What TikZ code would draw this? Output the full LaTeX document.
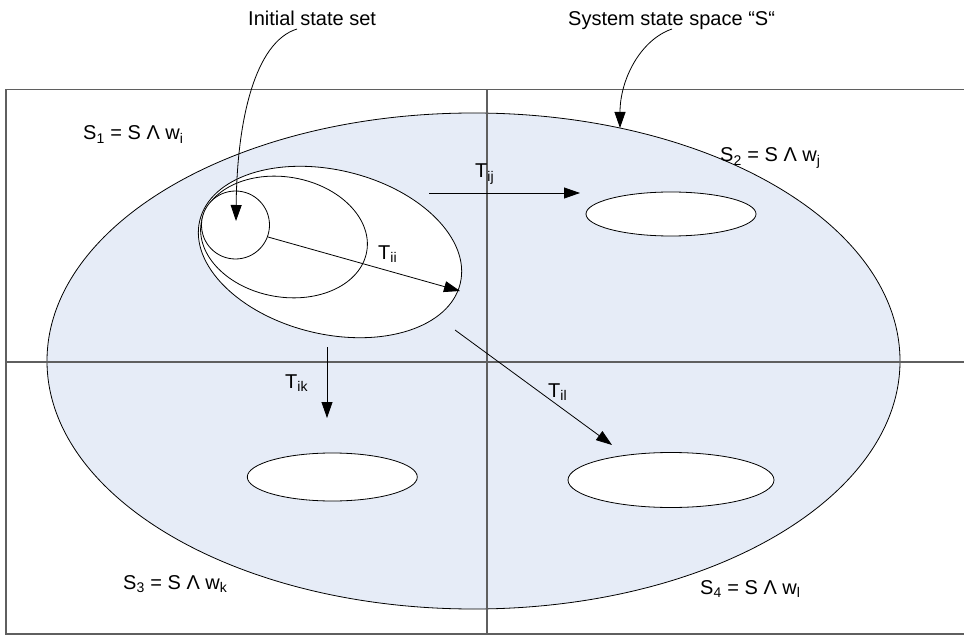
\documentclass[tikz,border=0pt]{standalone}
\usepackage{fontspec}
\setmainfont{Liberation Sans}
\usetikzlibrary{arrows.meta,shapes.geometric}
\definecolor{regionblue}{RGB}{230,236,247}
\definecolor{gridgray}{RGB}{95,95,95}
\begin{document}
\begin{tikzpicture}[x=1pt,y=1pt,
  gridline/.style={draw=gridgray,line width=1.3pt},
  blob/.style={ellipse,draw=black,line width=0.8pt,inner sep=0pt},
  hole/.style={blob,fill=white},
  tr/.style={-{Triangle[length=16pt,width=11pt]},line width=0.8pt},
  lbl/.style={font=\fontsize{20}{24}\selectfont,inner sep=0pt,anchor=base west}]
\useasboundingbox (0,0) rectangle (964,-639);
% big state space
\node[blob,fill=regionblue,minimum width=853pt,minimum height=496pt] (S) at (473.5,-361) {};
% grid
\draw[gridline] (966,-89.5) -- (6,-89.5) -- (6,-634) -- (966,-634);
\draw[gridline] (6,-362) -- (966,-362);
\draw[gridline] (487,-89.5) -- (487,-634);
% initial state ellipses
\node[hole,minimum width=268pt,minimum height=164pt,rotate=-13.6] (outer) at (330,-252) {};
\node[hole,minimum width=168pt,minimum height=120pt,rotate=-10] (mid) at (284,-237) {};
\node[hole,minimum width=68pt,minimum height=68pt] (init) at (235.5,-225) {};
% target holes
\node[hole,minimum width=170pt,minimum height=44pt] (h2) at (671,-214) {};
\node[hole,minimum width=170pt,minimum height=48pt] (h3) at (332.3,-477) {};
\node[hole,minimum width=206pt,minimum height=55pt] (h4) at (671,-480) {};
% title labels
\node[lbl] (tinit) at (248,-26) {Initial state set};
\node[lbl] (tsys) at (568,-26) {System state space “S“};
\coordinate (a1) at (297,-29);
\coordinate (a1e) at (236,-221);
\coordinate (a2) at (672,-29);
\coordinate (a2e) at (620,-128);
\draw[tr] (a1) .. controls (255,-42) and (237,-120) .. (a1e);
\draw[tr] (a2) .. controls (640,-40) and (620,-80) .. (a2e);
% region labels
\node[lbl] (l1) at (83,-140) {S\textsubscript{1} = S Λ w\textsubscript{i}};
\node[lbl] (l2) at (720,-162) {S\textsubscript{2} = S Λ w\textsubscript{j}};
\node[lbl] (l3) at (123,-589) {S\textsubscript{3} = S Λ w\textsubscript{k}};
\node[lbl] (l4) at (700,-594) {S\textsubscript{4} = S Λ w\textsubscript{l}};
% transitions
\coordinate (tii0) at (268,-237);
\coordinate (tii1) at (460,-291);
\draw[tr] (tii0) -- (tii1);
\node[lbl] (lii) at (378,-259) {T\textsubscript{ii}};
\coordinate (tij0) at (429,-193);
\coordinate (tij1) at (580,-193);
\draw[tr] (tij0) -- (tij1);
\node[lbl] (lij) at (475,-178) {T\textsubscript{ij}};
\coordinate (tik0) at (327,-347);
\coordinate (tik1) at (327,-418);
\draw[tr] (tik0) -- (tik1);
\node[lbl] (lik) at (285,-388) {T\textsubscript{ik}};
\coordinate (til0) at (455,-330);
\coordinate (til1) at (612,-445);
\draw[tr] (til0) -- (til1);
\node[lbl] (lil) at (548,-397) {T\textsubscript{il}};
\end{tikzpicture}
\end{document}
